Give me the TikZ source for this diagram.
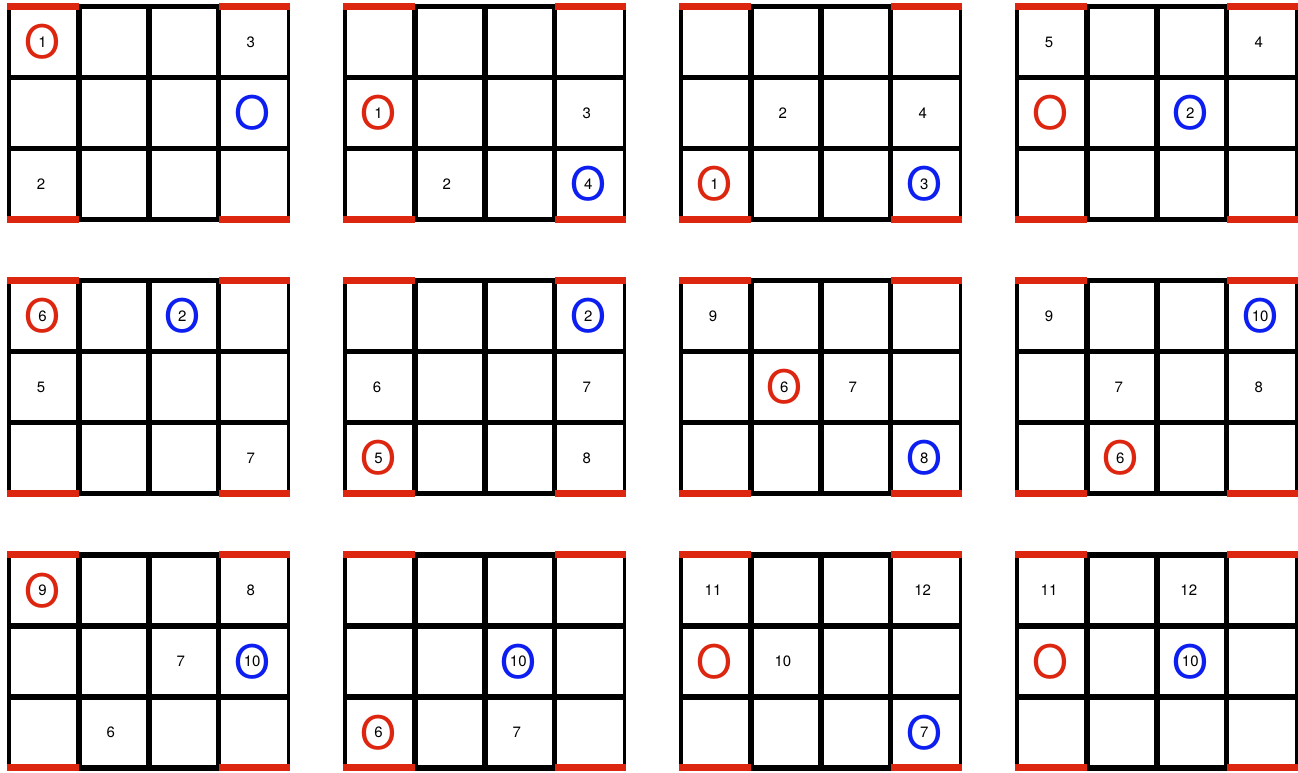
\documentclass[tikz,border=0pt]{standalone}
\usepackage{fontspec}
\setmainfont{TeX Gyre Heros}
\definecolor{markred}{RGB}{221,38,16}
\definecolor{markblue}{RGB}{12,30,240}

\begin{document}
\begin{tikzpicture}[
    x=1pt, y=-1pt,
    gridline/.style={line width=5.5pt, black},
    outerline/.style={line width=3.5pt, black},
    redbar/.style={line width=7pt, markred},
    numtxt/.style={
        font=\fontsize{15}{15}\selectfont,
        inner sep=0pt
    },
    ring/.style={
        font=\fontsize{46}{46}\selectfont,
        inner sep=0pt
    }
]
\useasboundingbox (0,0) rectangle (1298,772);

% --- boards ---
\foreach \gx in {0,...,3}{
  \foreach \gy in {0,1,2}{
    \begin{scope}[shift={(9+336*\gx, 6.5+274.2*\gy)}]
      \foreach \h in {0,71,142,213}
        \draw [gridline] (-1.75,\h) -- (281.35,\h);
      \foreach \v in {69.9,139.8,209.7}
        \draw [gridline] (\v,-2.75) -- (\v,215.75);
      \draw [outerline] (0,-2.75) -- (0,215.75);
      \draw [outerline] (279.6,-2.75) -- (279.6,215.75);
      \foreach \h in {0,213}{
        \draw [redbar] (-1.75,\h) -- (69.5,\h);
        \draw [redbar] (210,\h) -- (281.35,\h);
      }
    \end{scope}
  }
}

% --- rings ---
\foreach \gx/\gy/\c/\r/\col/\txt in {
    0/0/0/0/markred/1, 0/0/3/1/markblue/{},
    1/0/0/1/markred/1, 1/0/3/2/markblue/4,
    2/0/0/2/markred/1, 2/0/3/2/markblue/3,
    3/0/0/1/markred/{}, 3/0/2/1/markblue/2,
    0/1/0/0/markred/6, 0/1/2/0/markblue/2,
    1/1/0/2/markred/5, 1/1/3/0/markblue/2,
    2/1/1/1/markred/6, 2/1/3/2/markblue/8,
    3/1/1/2/markred/6, 3/1/3/0/markblue/10,
    0/2/0/0/markred/9, 0/2/3/1/markblue/10,
    1/2/0/2/markred/6, 1/2/2/1/markblue/10,
    2/2/0/1/markred/{}, 2/2/3/2/markblue/7,
    3/2/0/1/markred/{}, 3/2/2/1/markblue/10}{
  \node [ring, text=\col] (ring\gx\gy\c\r)
    at ({9+336*\gx+33.5+69.9*\c}, {6.5+274.2*\gy+35.5+71*\r}) {O};
  \node [numtxt] (ringnum\gx\gy\c\r) at (ring\gx\gy\c\r.center) {\txt};
}

% --- numbers ---
\foreach \gx/\gy/\c/\r/\txt in {
    0/0/3/0/3, 0/0/0/2/2,
    1/0/3/1/3, 1/0/1/2/2,
    2/0/1/1/2, 2/0/3/1/4,
    3/0/0/0/5, 3/0/3/0/4,
    0/1/0/1/5, 0/1/3/2/7,
    1/1/0/1/6, 1/1/3/1/7, 1/1/3/2/8,
    2/1/0/0/9, 2/1/2/1/7,
    3/1/0/0/9, 3/1/1/1/7, 3/1/3/1/8,
    0/2/3/0/8, 0/2/2/1/7, 0/2/1/2/6,
    1/2/2/2/7,
    2/2/0/0/11, 2/2/3/0/12, 2/2/1/1/10,
    3/2/0/0/11, 3/2/2/0/12}{
  \node [numtxt] (num\gx\gy\c\r)
    at ({9+336*\gx+32+69.9*\c}, {6.5+274.2*\gy+35.5+71*\r}) {\txt};
}

\end{tikzpicture}
\end{document}
